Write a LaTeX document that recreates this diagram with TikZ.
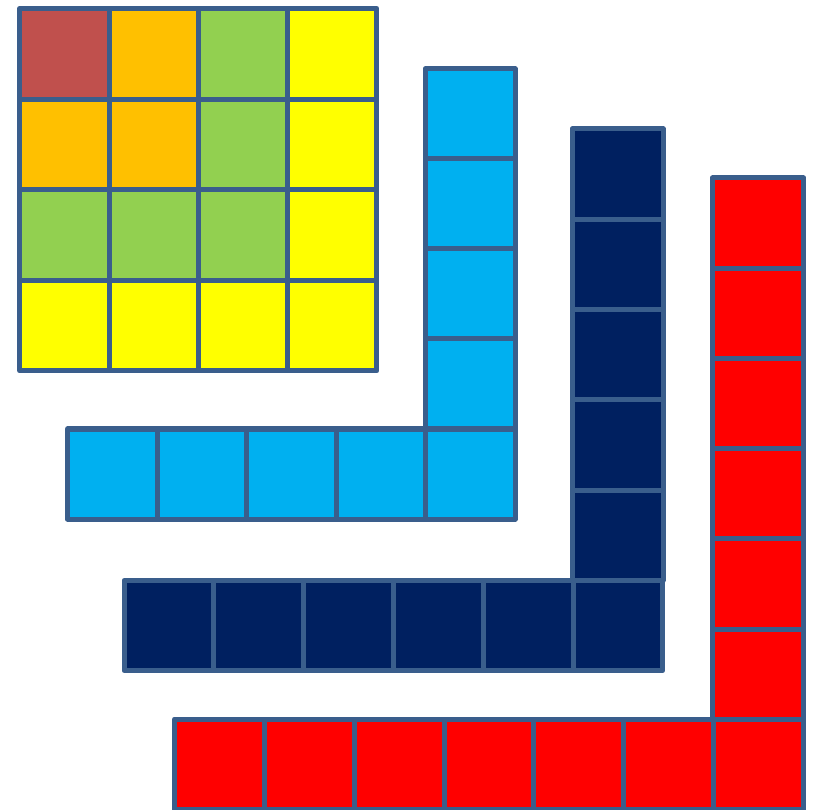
\documentclass[tikz,border=0pt]{standalone}

\definecolor{brick}{HTML}{C0504D}
\definecolor{amber}{HTML}{FFC000}
\definecolor{lime}{HTML}{92D050}
\definecolor{lemon}{HTML}{FFFF00}
\definecolor{sky}{HTML}{00B0F0}
\definecolor{navy}{HTML}{002060}
\definecolor{scarlet}{HTML}{FF0000}
\definecolor{edge}{HTML}{3A5E8C}

\tikzset{cell/.style={draw=edge, line width=0.5mm, line join=round}}

\begin{document}
\begin{tikzpicture}[x=0.01cm, y=-0.01cm]
        \useasboundingbox (0,0) rectangle (816,810);

        % square of 16
        \foreach \i in {0,...,3}
        \foreach \j in {0,...,3} {
            \pgfmathtruncatemacro{\k}{max(\i,\j)}
            \ifcase\k \def\c{brick}\or \def\c{amber}\or \def\c{lime}\else \def\c{lemon}\fi
            \filldraw [cell, fill=\c] (19.7+89.3*\i, 8.5+90.6*\j) rectangle ++(89.3, 90.6);
        }

        % 9
        \foreach \j in {0,...,3}
            \filldraw [cell, fill=sky] (425, 69+90*\j) rectangle ++(90, 90);
        \foreach \i in {0,...,4}
            \filldraw [cell, fill=sky] (67.5+89.5*\i, 429) rectangle ++(89.5, 90);

        % 11
        \foreach \j in {0,...,4}
            \filldraw [cell, fill=navy] (572, 129+90.3*\j) rectangle ++(91, 90.3);
        \foreach \i in {0,...,5}
            \filldraw [cell, fill=navy] (124+89.8*\i, 580.5) rectangle ++(89.8, 90);

        % 13
        \foreach \j in {0,...,5}
            \filldraw [cell, fill=scarlet] (712.5, 178+90.2*\j) rectangle ++(91, 90.2);
        \foreach \i in {0,...,6}
            \filldraw [cell, fill=scarlet] (174.5+89.86*\i, 719) rectangle ++(89.86, 90);

\end{tikzpicture}
\end{document}
